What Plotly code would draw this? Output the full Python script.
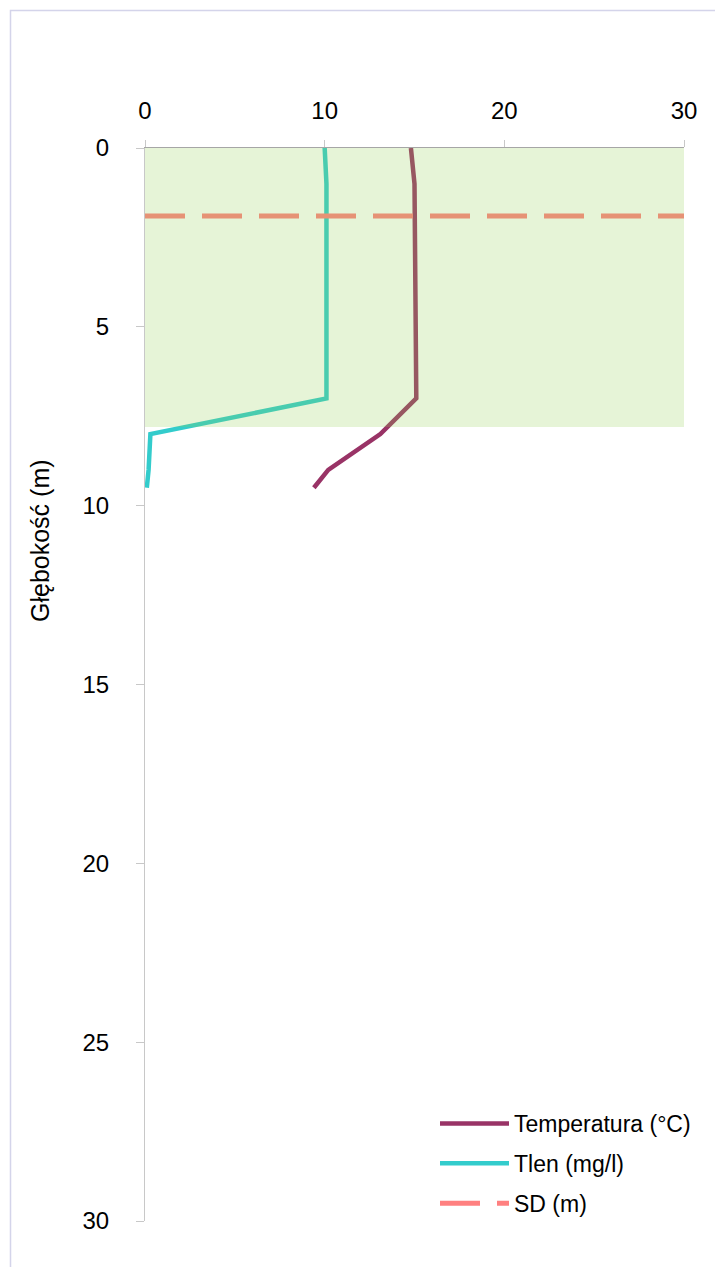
import plotly.graph_objects as go

# ---- data ----
depth = [0, 1, 7, 8, 9, 9.5]
temperature = [14.8, 15.0, 15.1, 13.1, 10.2, 9.4]
oxygen = [10.0, 10.1, 10.1, 0.3, 0.2, 0.1]
sd_depth = 1.9
sd_x = [0, 30]
zone_depth = 7.8          # shaded (green) layer depth
zone_x = [0, 30.2]
x_ticks = [0, 10, 20, 30]
y_ticks = [0, 5, 10, 15, 20, 25, 30]

FONT = "Liberation Sans, Arial, sans-serif"

OFF = 8  # page body margin
W, H = 723, 1267
L, T = 145 - OFF, 148 - OFF
R = W - (684 - OFF)
B = H - (1221 - OFF)
PW, PH = W - L - R, H - T - B


def px_x(p):
    return (p - OFF - L) / PW


def px_y(p):
    return 1 - (p - OFF - T) / PH


fig = go.Figure()

fig.add_trace(go.Scatter(
    x=temperature, y=depth, mode="lines", name="Temperatura (°C)",
    legendgroup="a",
    line=dict(color="#993366", width=4.5),
))
fig.add_trace(go.Scatter(
    x=oxygen, y=depth, mode="lines", name="Tlen (mg/l)",
    legendgroup="b",
    line=dict(color="#33CCCC", width=4.5),
))
fig.add_trace(go.Scatter(
    x=sd_x, y=[sd_depth, sd_depth], mode="lines", name="SD (m)",
    legendgroup="c",
    line=dict(color="#FF8080", width=5, dash="40px,17px"),
))

# semi-transparent green layer drawn above the lines
fig.add_shape(
    type="rect", xref="x", yref="y",
    x0=zone_x[0], x1=zone_x[1], y0=0, y1=zone_depth,
    fillcolor="rgba(146,208,80,0.23)", line=dict(width=0),
    layer="above",
)

# outer chart border
fig.add_shape(
    type="rect", xref="paper", yref="paper",
    x0=px_x(10.5), x1=px_x(760), y0=px_y(1300), y1=px_y(10.5),
    line=dict(color="#d4d4ea", width=1.5), fillcolor="rgba(0,0,0,0)",
    layer="below",
)

fig.add_annotation(
    text="Głębokość (m)", xref="paper", yref="paper",
    x=px_x(40), y=px_y(541), textangle=-90, showarrow=False,
    font=dict(family=FONT, size=25, color="#000000"),
    xanchor="center", yanchor="middle",
)

fig.update_layout(
    width=W, height=H,
    margin=dict(l=L, r=R, t=T, b=B),
    paper_bgcolor="white", plot_bgcolor="white",
    font=dict(family=FONT, size=24, color="#000000"),
    showlegend=True,
    legend=dict(
        x=px_x(435), y=px_y(1102), xanchor="left", yanchor="top",
        bgcolor="rgba(0,0,0,0)", font=dict(family=FONT, size=23),
        tracegroupgap=7, itemwidth=69,
    ),
    xaxis=dict(
        side="top", range=[0, 30], tickvals=x_ticks,
        showgrid=False, zeroline=False,
        showline=True, linecolor="#a6a6a6", linewidth=1,
        ticks="outside", ticklen=7, tickcolor="#c8c8c8",
        ticklabelstandoff=11,
        tickfont=dict(family=FONT, size=24),
    ),
    yaxis=dict(
        range=[30, 0], tickvals=y_ticks,
        showgrid=False, zeroline=False,
        showline=True, linecolor="#c8c8c8", linewidth=1,
        ticks="outside", ticklen=8, tickcolor="#c8c8c8",
        ticklabelstandoff=22,
        tickfont=dict(family=FONT, size=24),
    ),
)

fig.write_html("out.html")
